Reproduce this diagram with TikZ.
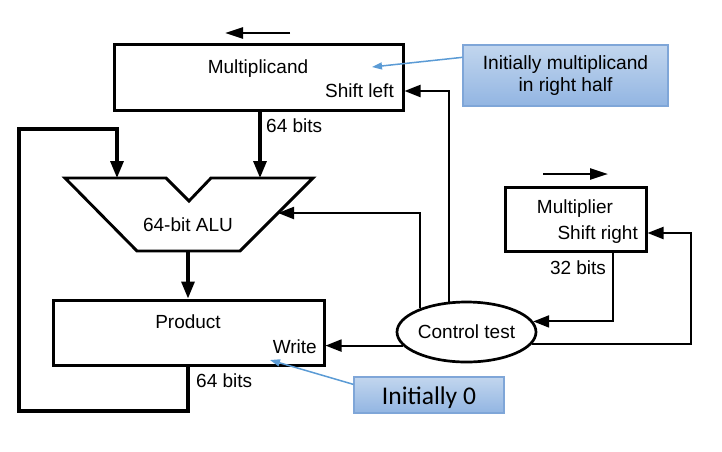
\documentclass[tikz,border=0pt]{standalone}
\usepackage{fontspec}
\setmainfont{Liberation Sans}
\newfontfamily\notefont{Carlito}
\usetikzlibrary{arrows.meta,shapes.geometric}

\definecolor{noteTop}{HTML}{C2D6EE}
\definecolor{noteBot}{HTML}{92B5E2}
\definecolor{noteEdge}{HTML}{7FA6D8}
\definecolor{pointer}{HTML}{5B9BD5}

\tikzset{
  lbl/.style={inner sep=0pt, font=\fontsize{19}{22}\selectfont, text height=13.6pt, text depth=0pt},
  regbox/.style={draw, line width=3pt, inner sep=0pt},
  aluline/.style={line width=2.9pt, line join=miter},
  data/.style={line width=3.2pt, -{Triangle[length=17pt,width=13pt]}},
  ctl/.style={line width=2.1pt, -{Triangle[length=16pt,width=12pt]}},
  dir/.style={line width=2.3pt, -{Triangle[length=18pt,width=11pt]}},
  note/.style={draw=noteEdge, line width=1.1pt, top color=noteTop, bottom color=noteBot,
               inner sep=0pt, align=center},
  pointerline/.style={draw=pointer, line width=1.5pt, -{Triangle[length=10pt,width=7pt]}, fill=pointer}
}

\begin{document}
\begin{tikzpicture}[x=1pt,y=-1pt]
\useasboundingbox (0,0) rectangle (722,451);

% registers
\node[regbox, minimum width=289pt, minimum height=66pt] (mcand) at (258.5,77) {};
\node[lbl] (mcandname) at (258,67) {Multiplicand};
\node[lbl, anchor=east] (mcandctl) at (394,91) {Shift left};

\node[regbox, minimum width=141pt, minimum height=64pt] (mplier) at (575.5,219) {};
\node[lbl] (mpliername) at (575,207) {Multiplier};
\node[lbl, anchor=east] (mplierctl) at (638,232.5) {Shift right};

\node[regbox, minimum width=271pt, minimum height=65pt] (prod) at (188.5,332.5) {};
\node[lbl] (prodname) at (188,322) {Product};
\node[lbl, anchor=east] (prodctl) at (317,347) {Write};

% control unit
\node[ellipse, draw, line width=2.7pt, minimum width=139pt, minimum height=60pt, inner sep=0pt,
      font=\fontsize{19}{22}\selectfont] (ctrl) at (466.5,332) {Control test};

% ALU outline
\draw[aluline] (65,178) -- (166,178) -- (189,201) -- (211,178) -- (313,178)
  -- (240,251) -- (137,251) -- cycle;
\node[lbl] (aluname) at (188,225) {64-bit ALU};
\coordinate (aluL) at (117,178);
\coordinate (aluR) at (260,178);
\coordinate (aluOut) at (188,251);
\coordinate (aluCtl) at (278,213);

% data paths
\draw[data] (mcand.south -| aluR) -- (aluR);
\node[lbl, anchor=west] (w64a) at (266,126) {64 bits};
\draw[data] (aluOut) -- (prod.north -| aluOut);
\coordinate (loopB) at (188,411);
\coordinate (loopT) at (19,129);
\draw[data, line join=miter] (prod.south -| aluOut) -- (loopB) -| (loopT) -| (aluL);
\node[lbl, anchor=west] (w64b) at (196,381) {64 bits};
\node[lbl] (w32) at (578,268) {32 bits};

% control lines
\draw[ctl] (ctrl.153) |- (aluCtl);
\draw[ctl] (ctrl.120) |- (mcand.east |- mcandctl);
\draw[ctl] (ctrl.192) -- (prod.east |- ctrl.192);
\coordinate (mpOut) at (613,251);
\draw[ctl] (mplier.south -| mpOut) |- (ctrl.9);
\coordinate (rtTop) at (691,233);
\draw[ctl] (ctrl.-10) -| (rtTop) -- (mplier.east |- rtTop);

% shift directions
\coordinate (lsA) at (290,33);
\coordinate (lsB) at (225,33);
\draw[dir] (lsA) -- (lsB);
\coordinate (rsA) at (543,174);
\coordinate (rsB) at (608,174);
\draw[dir] (rsA) -- (rsB);

% notes
\node[note, minimum width=205pt, minimum height=61pt, font=\fontsize{19.2}{22}\selectfont]
  (note1) at (565.5,75.5) {Initially multiplicand\\in right half};
\coordinate (tip1) at (372,67);
\draw[pointerline] (note1.170) -- (tip1);

\node[note, minimum width=150pt, minimum height=36pt, text height=18pt, text depth=0pt,
      font=\notefont\fontsize{25.5}{27}\selectfont]
  (note2) at (429,395) {Initially 0};
\coordinate (tip2) at (270,360);
\draw[pointerline] (note2.172) -- (tip2);
\end{tikzpicture}
\end{document}
